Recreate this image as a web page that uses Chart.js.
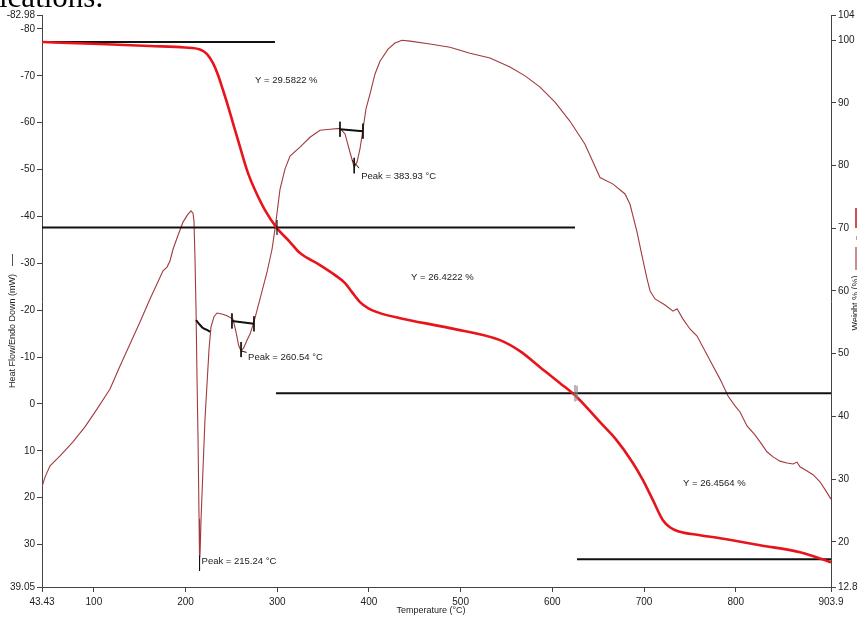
<!DOCTYPE html>
<html>
<head>
<meta charset="utf-8">
<script src="https://cdn.jsdelivr.net/npm/chart.js@4.4.1/dist/chart.umd.min.js"></script>
<style>
  html, body { margin: 0; padding: 0; background: #fff; overflow: hidden; }
  #wrap { position: relative; width: 857px; height: 619px; }
  canvas { display: block; }
</style>
</head>
<body>
<div id="wrap"><canvas id="c" width="857" height="619"></canvas></div>
<script>
// ---- Heat flow (DSC) trace, left axis, mW ----
const hfTemp = [43.43, 46.7, 52.2, 63.1, 77.2, 90.3, 103.4, 117.6, 128.5, 139.4, 150.3, 161.2, 168.8, 175.4, 179.8, 183.0, 186.3, 191.8, 197.2, 202.7, 205.9, 208.1, 209.2, 210.3, 211.4, 212.5, 213.6, 214.7, 215.24, 215.8, 216.9, 219.0, 221.2, 223.4, 225.6, 227.7, 231.0, 234.3, 239.7, 245.2, 251.7, 255.0, 258.0, 260.54, 263.5, 267.0, 270.3, 274.6, 281.2, 288.8, 294.3, 297.5, 303.0, 308.4, 313.9, 324.8, 335.7, 346.6, 357.5, 368.4, 373.9, 379.3, 383.93, 387.0, 390.2, 393.5, 396.7, 401.1, 406.6, 412.0, 420.8, 428.4, 436.0, 444.8, 466.6, 488.4, 510.2, 532.0, 553.8, 570.2, 586.6, 602.9, 619.3, 635.6, 652.0, 666.2, 679.3, 684.7, 692.3, 697.8, 703.3, 706.6, 712.0, 722.9, 731.6, 736.0, 742.5, 750.1, 757.8, 766.5, 775.2, 782.9, 791.6, 799.2, 804.7, 812.3, 821.0, 826.5, 834.1, 840.7, 848.3, 855.9, 862.5, 866.8, 870.1, 877.8, 884.3, 891.9, 898.5, 903.9];
const hfValue = [17.7, 15.6, 13.2, 11.1, 8.1, 4.9, 1.1, -3.2, -8.1, -12.8, -17.5, -22.4, -25.6, -28.4, -29.2, -30.5, -33.0, -36.0, -38.8, -40.5, -41.2, -40.7, -39.0, -30.9, -20.3, -5.3, 7.5, 24.5, 33.0, 32.0, 24.5, 13.9, 3.2, -4.3, -11.7, -16.4, -18.6, -19.4, -19.2, -18.8, -18.1, -15.4, -12.4, -11.3, -12.0, -13.6, -14.9, -17.5, -22.4, -28.1, -33.0, -37.3, -45.8, -50.1, -52.9, -54.8, -56.9, -58.4, -58.6, -58.8, -57.6, -53.7, -50.5, -51.6, -54.4, -58.6, -62.9, -66.1, -70.4, -73.1, -75.7, -77.0, -77.6, -77.4, -76.8, -76.1, -74.8, -73.8, -71.9, -70.0, -67.6, -64.4, -60.3, -55.4, -48.3, -46.9, -44.8, -42.6, -36.7, -31.6, -26.7, -24.1, -22.4, -21.1, -19.8, -20.3, -18.1, -16.0, -14.5, -11.3, -8.1, -5.3, -1.7, 0.4, 1.7, 4.7, 6.6, 8.1, 10.2, 11.3, 12.2, 12.6, 12.8, 12.4, 13.4, 14.3, 15.1, 16.6, 18.6, 20.3];

// ---- Weight (TGA) trace, right axis, % ----
const wtTemp = [43.43, 106.7, 161.2, 199.4, 215.7, 223.4, 229.9, 235.4, 240.8, 246.3, 251.7, 257.2, 262.6, 268.1, 275.7, 286.6, 299.7, 313.9, 324.8, 346.6, 363.0, 373.9, 381.5, 390.2, 399.0, 412.0, 433.9, 488.4, 542.9, 564.7, 586.6, 608.4, 626.9, 652.0, 668.3, 688.0, 698.8, 709.7, 720.6, 728.2, 737.0, 761.0, 782.9, 826.5, 870.1, 903.9];
const wtValue = [99.69, 99.37, 99.05, 98.82, 98.50, 97.78, 96.34, 94.43, 92.04, 89.49, 86.78, 84.06, 81.35, 78.80, 76.09, 72.90, 70.03, 67.80, 66.04, 64.13, 62.53, 61.26, 59.82, 58.23, 57.27, 56.47, 55.67, 54.08, 52.17, 50.41, 47.86, 45.31, 43.07, 39.09, 36.54, 32.55, 29.84, 26.65, 23.46, 22.34, 21.70, 21.07, 20.59, 19.47, 18.36, 16.76];

// ---- Step analysis (weight loss per step) ----
const stepStart = 99.7;
const stepLosses = [29.5822, 26.4222, 26.4564];
const stepMidTemps = [299.7, 626.9];
// horizontal level extents [from, to] in °C
const stepSpans = [[43.43, 297.5], [43.43, 624.7], [298.6, 903.9], [626.9, 903.9]];

// ---- Peak analysis on the heat flow trace ----
const peakTemps = [215.24, 260.54, 383.93];
const peakValues = [33.0, -11.3, -50.5];
// baseline segments for each peak integration [temps], [values]
const base1T = [211.4, 214.7, 219.0, 223.4, 226.7];
const base1V = [-17.9, -17.1, -16.2, -15.8, -15.4];
const base2T = [250.6, 274.6];
const base2V = [-17.7, -17.1];
const base3T = [368.4, 393.5];
const base3V = [-58.6, -58.2];

// ---- Axis ticks ----
const xTicks = [43.43, 100, 200, 300, 400, 500, 600, 700, 800, 903.9];
const hfTicks = [-82.98, -80, -70, -60, -50, -40, -30, -20, -10, 0, 10, 20, 30, 39.05];
const wtTicks = [104, 100, 90, 80, 70, 60, 50, 40, 30, 20, 12.81];

const FONT = '"Liberation Sans", Arial, sans-serif';
const xy = (xs, ys) => xs.map((x, i) => ({ x, y: ys[i] }));

// derived step levels
const levels = [stepStart];
stepLosses.forEach(d => levels.push(levels[levels.length - 1] - d));

const line = (data, color, width, axis, order, extra) => Object.assign({
  data, borderColor: color, borderWidth: width, yAxisID: axis, order,
  pointRadius: 0, fill: false, tension: 0
}, extra || {});

const datasets = [];
// heat flow trace
datasets.push(line(xy(hfTemp, hfValue), '#a23a3d', 1.1, 'y', 6));
// weight trace
datasets.push(line(xy(wtTemp, wtValue), '#e8141c', 2.6, 'y2', 3, { cubicInterpolationMode: 'monotone' }));
// step levels
stepSpans.forEach((s, i) => {
  datasets.push(line([{ x: s[0], y: levels[i] }, { x: s[1], y: levels[i] }], '#111', 2, 'y2', 4));
});
// step midpoint marks
stepMidTemps.forEach((t, i) => {
  const lv = levels[i + 1];
  const c = i === 0 ? '#111' : '#888';
  datasets.push(line([{ x: t, y: lv + 1.2 }, { x: t, y: lv - 1.2 }], c, 1.2, 'y2', 1));
  if (i === 1) datasets.push(line([{ x: t - 2.2, y: lv + 1.3 }, { x: t - 2.2, y: lv - 1.3 }], c, 1.2, 'y2', 1));
});
// peak baselines
datasets.push(line(xy(base1T, base1V), '#111', 2, 'y', 2, { cubicInterpolationMode: 'monotone' }));
datasets.push(line(xy(base2T, base2V), '#111', 2, 'y', 2));
datasets.push(line(xy(base3T, base3V), '#111', 2, 'y', 2));
// baseline end marks
[[base2T[0], base2V[0]], [base2T[1], base2V[1]], [base3T[0], base3V[0]], [base3T[1], base3V[1]]].forEach(p => {
  datasets.push(line([{ x: p[0], y: p[1] - 1.6 }, { x: p[0], y: p[1] + 1.6 }], '#111', 1, 'y', 1));
});
// peak marks
datasets.push(line([{ x: peakTemps[0], y: peakValues[0] - 0.6 }, { x: peakTemps[0], y: peakValues[0] + 2.6 }], '#111', 1, 'y', 0));
datasets.push(line([{ x: peakTemps[1], y: peakValues[1] - 1.9 }, { x: peakTemps[1], y: peakValues[1] + 1.3 }], '#111', 1, 'y', 0));
datasets.push(line([{ x: peakTemps[1], y: peakValues[1] }, { x: peakTemps[1] + 6, y: peakValues[1] + 0.3 }], '#111', 1, 'y', 0));
datasets.push(line([{ x: peakTemps[2], y: peakValues[2] - 2 }, { x: peakTemps[2], y: peakValues[2] + 1.3 }], '#111', 1, 'y', 0));
datasets.push(line([{ x: peakTemps[2] - 2.2, y: peakValues[2] - 1.5 }, { x: peakTemps[2] + 5.4, y: peakValues[2] + 0.2 }], '#111', 1, 'y', 0));

const axisCommon = (ticks, fitKey, fitVal, pad) => ({
  afterBuildTicks: s => { s.ticks = ticks.map(v => ({ value: v })); },
  afterFit: s => { s[fitKey] = fitVal; },
  ticks: { autoSkip: false, maxRotation: 0, color: '#222', font: { family: FONT, size: 10 }, padding: pad, callback: v => String(v) },
  grid: { drawOnChartArea: false, drawTicks: true, tickLength: 5, color: '#444', lineWidth: 1 },
  border: { display: true, color: '#444', width: 1 }
});

const annotate = {
  id: 'annotate',
  afterDraw(chart) {
    const { ctx, scales } = chart;
    const { x, y, y2 } = scales;
    ctx.save();
    ctx.fillStyle = '#222';
    ctx.font = '9.5px ' + FONT;
    ctx.textAlign = 'left';
    ctx.textBaseline = 'middle';
    // peak labels
    const offs = [[2, 3], [7, 6], [7, 9]];
    peakTemps.forEach((t, i) => {
      const px = x.getPixelForValue(t) + offs[i][0];
      const py = y.getPixelForValue(peakValues[i]) + offs[i][1];
      ctx.fillText('Peak = ' + t.toFixed(2) + ' °C', px, py);
    });
    // step labels
    const stepPos = [[275.7, 93.6], [445.9, 62.2], [742.5, 29.4]];
    stepLosses.forEach((d, i) => {
      ctx.fillText('Y = ' + d.toFixed(4) + ' %', x.getPixelForValue(stepPos[i][0]), y2.getPixelForValue(stepPos[i][1]));
    });
    // x-axis title
    ctx.font = '9px ' + FONT;
    ctx.textAlign = 'center';
    ctx.fillText('Temperature (°C)', 431, 611);
    // left axis title with series sample
    ctx.save();
    ctx.translate(13, 331);
    ctx.rotate(-Math.PI / 2);
    ctx.fillText('Heat Flow/Endo Down (mW)', 0, 0);
    ctx.restore();
    ctx.strokeStyle = '#555';
    ctx.lineWidth = 1;
    ctx.beginPath(); ctx.moveTo(12.5, 254); ctx.lineTo(12.5, 266); ctx.stroke();
    // right axis title with series samples
    ctx.save();
    ctx.translate(858, 303);
    ctx.rotate(-Math.PI / 2);
    ctx.textBaseline = 'alphabetic';
    ctx.fillText('Weight % (%)', 0, 0);
    ctx.restore();
    ctx.strokeStyle = '#cc5050'; ctx.lineWidth = 2;
    ctx.beginPath(); ctx.moveTo(856, 208); ctx.lineTo(856, 228); ctx.stroke();
    ctx.strokeStyle = '#aaa'; ctx.lineWidth = 1;
    ctx.beginPath(); ctx.moveTo(856.5, 236); ctx.lineTo(856.5, 240); ctx.stroke();
    ctx.strokeStyle = '#b86a6a'; ctx.lineWidth = 1.5;
    ctx.beginPath(); ctx.moveTo(856, 247); ctx.lineTo(856, 270); ctx.stroke();
    // page text running above the figure
    ctx.fillStyle = '#000';
    ctx.textAlign = 'left';
    ctx.textBaseline = 'alphabetic';
    ctx.font = '31px "Liberation Serif", "Times New Roman", serif';
    ctx.fillText('ications.', -1, 7);
    ctx.restore();
  }
};

new Chart(document.getElementById('c'), {
  type: 'line',
  data: { datasets },
  options: {
    responsive: false,
    animation: false,
    devicePixelRatio: 1,
    parsing: true,
    layout: { padding: { top: 15, left: 0, right: 0, bottom: 0 } },
    plugins: { legend: { display: false }, tooltip: { enabled: false }, title: { display: false } },
    scales: {
      x: Object.assign({ type: 'linear', min: 43.43, max: 903.9 }, axisCommon(xTicks, 'height', 32, 4)),
      y: Object.assign({ type: 'linear', position: 'left', reverse: true, min: -82.98, max: 39.05 }, axisCommon(hfTicks, 'width', 42, 2)),
      y2: Object.assign({ type: 'linear', position: 'right', min: 12.81, max: 104 }, axisCommon(wtTicks, 'width', 26, 2))
    }
  },
  plugins: [annotate]
});
</script>
</body>
</html>
